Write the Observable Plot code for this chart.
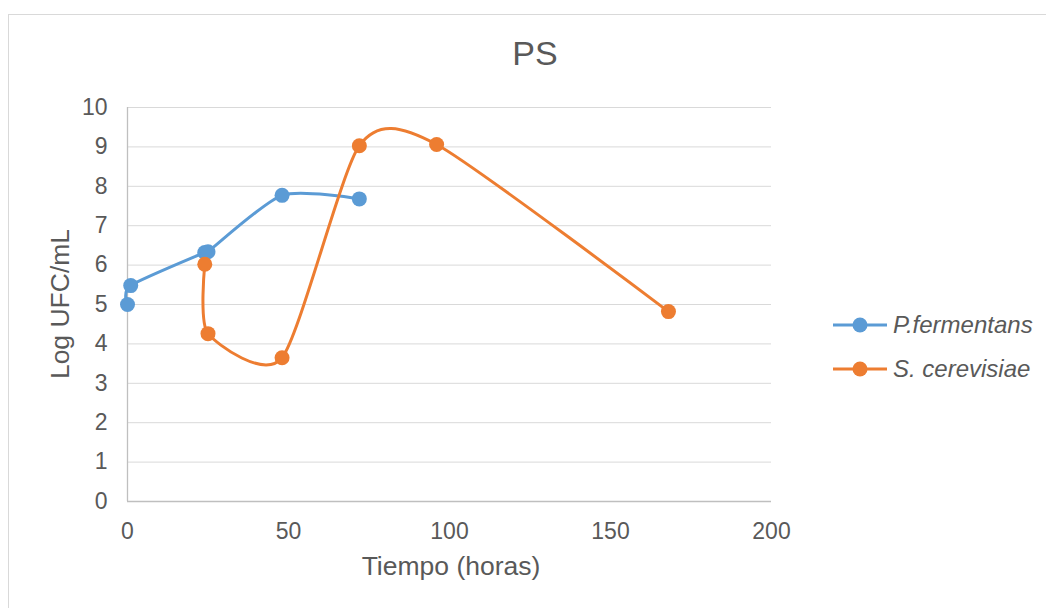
<!DOCTYPE html>
<html>
<head>
<meta charset="utf-8">
<script src="https://cdn.jsdelivr.net/npm/d3@7"></script>
<script src="https://cdn.jsdelivr.net/npm/@observablehq/plot@0.6"></script>
<style>
  html, body { margin: 0; padding: 0; background: #fff; width: 1046px; height: 608px; overflow: hidden; }
  body { position: relative; font-family: "Liberation Sans", Arial, sans-serif; color: #595959; }
  #frame { position: absolute; left: 8px; top: 14px; width: 1100px; height: 700px; border: 1px solid #d9d9d9; box-sizing: border-box; }
  #chart { position: absolute; left: 0; top: 0; }
  .title { position: absolute; left: 335px; width: 400px; top: 33px; text-align: center; font-size: 34px; line-height: 40px; }
  .xlabel { position: absolute; left: 251px; width: 400px; top: 550px; text-align: center; font-size: 26.5px; line-height: 32px; }
  .ylabel { position: absolute; left: 60px; top: 304px; transform: translate(-50%, -50%) rotate(-90deg); font-size: 26.5px; line-height: 32px; white-space: nowrap; }
  .legend { position: absolute; left: 833px; top: 303px; font-size: 24px; }
  .legend .item { display: flex; align-items: center; height: 44px; }
  .legend svg { margin-right: 6px; }
  .legend span { font-style: italic; }
</style>
</head>
<body>
<div id="frame"></div>
<div id="chart"></div>
<div class="title">PS</div>
<div class="xlabel">Tiempo (horas)</div>
<div class="ylabel">Log UFC/mL</div>
<div class="legend" id="legend"></div>
<script>
// Series names and colours
const seriesNames = ["P.fermentans", "S. cerevisiae"];
const seriesColors = ["#5B9BD5", "#ED7D31"];

// P.fermentans
const pfTime = [0, 1, 24, 25, 48, 72];
const pfLog  = [5.0, 5.48, 6.32, 6.34, 7.77, 7.68];

// S. cerevisiae
const scTime = [24, 25, 48, 72, 96, 168];
const scLog  = [6.02, 4.26, 3.65, 9.03, 9.06, 4.82];

// Ticks
const xTicks = [0, 50, 100, 150, 200];
const yTicks = [0, 1, 2, 3, 4, 5, 6, 7, 8, 9, 10];

const pf = pfTime.map((t, i) => ({t, v: pfLog[i]}));
const sc = scTime.map((t, i) => ({t, v: scLog[i]}));

const plot = Plot.plot({
  width: 1046,
  height: 608,
  marginLeft: 127,
  marginRight: 275,
  marginTop: 107,
  marginBottom: 107,
  x: {domain: [0, 200]},
  y: {domain: [0, 10]},
  style: {fontFamily: "'Liberation Sans', Arial, sans-serif", fontSize: "23px", color: "#595959", background: "transparent", overflow: "visible"},
  marks: [
    Plot.gridY(yTicks, {stroke: "#d9d9d9", strokeOpacity: 1, strokeWidth: 1}),
    Plot.ruleY([0], {stroke: "#bfbfbf", strokeWidth: 1.3}),
    Plot.ruleX([0], {y1: 0, y2: 10, stroke: "#bfbfbf", strokeWidth: 1.3}),
    Plot.axisY(yTicks, {tickSize: 0, tickPadding: 20, label: null, fill: "#595959"}),
    Plot.axisX(xTicks, {tickSize: 0, tickPadding: 21, label: null, fill: "#595959"}),
    Plot.line(pf, {x: "t", y: "v", curve: "cardinal", tension: 0.3, stroke: seriesColors[0], strokeWidth: 3}),
    Plot.dot(pf, {x: "t", y: "v", r: 7.5, fill: seriesColors[0], stroke: null}),
    Plot.line(sc, {x: "t", y: "v", curve: "cardinal", tension: 0.3, stroke: seriesColors[1], strokeWidth: 3}),
    Plot.dot(sc, {x: "t", y: "v", r: 7.5, fill: seriesColors[1], stroke: null})
  ]
});
document.getElementById("chart").appendChild(plot);

const legend = document.getElementById("legend");
seriesNames.forEach((name, i) => {
  const item = document.createElement("div");
  item.className = "item";
  item.innerHTML = `<svg width="54" height="18"><line x1="0" y1="9" x2="54" y2="9" stroke="${seriesColors[i]}" stroke-width="3"/><circle cx="27" cy="9" r="7.5" fill="${seriesColors[i]}"/></svg><span>${name}</span>`;
  legend.appendChild(item);
});
</script>
</body>
</html>
